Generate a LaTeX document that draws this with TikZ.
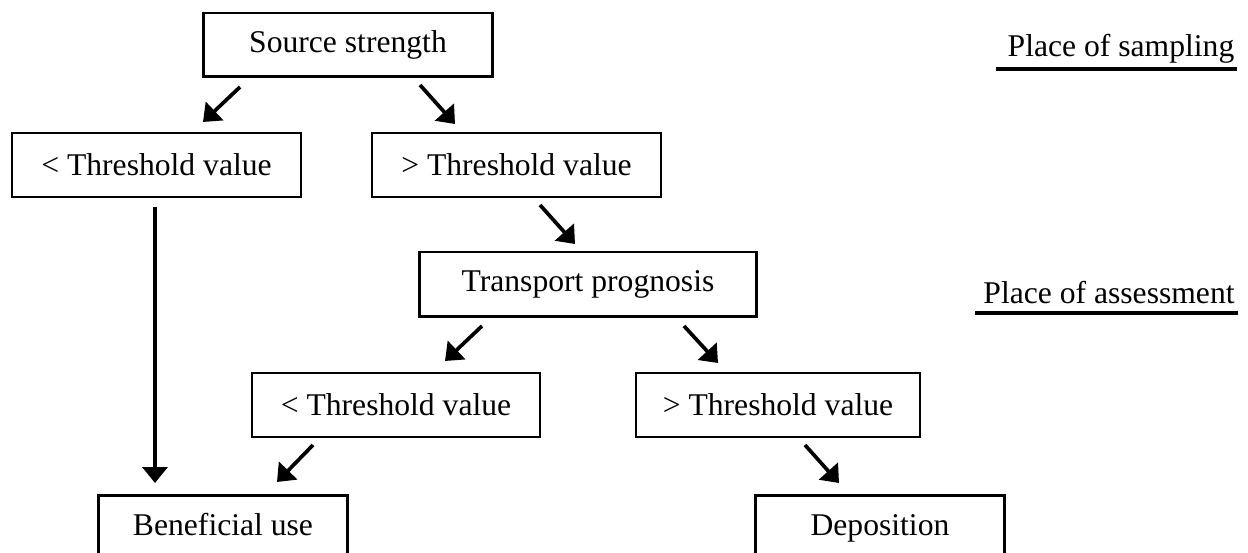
\documentclass[tikz,border=0pt]{standalone}
\usepackage{fontspec}
\setmainfont{Liberation Serif}
\usetikzlibrary{arrows.meta}

\begin{document}
\begin{tikzpicture}[x=0.02cm, y=-0.02cm,
    box/.style={draw, line width=0.85pt, minimum width=5.78cm, minimum height=1.28cm, inner sep=0pt, font=\fontsize{18}{22}\selectfont},
    heavy/.style={box, line width=1.7pt},
    cutbox/.style={heavy, anchor=north, text height=0.8cm, text depth=1cm},
    flow/.style={line width=2.1pt, -{Triangle[length=0.32cm, width=0.5cm]}},
    tag/.style={font=\fontsize{18}{22}\selectfont, inner sep=0pt, anchor=base},
    rule/.style={line width=1.9pt}]
    \useasboundingbox (0,0) rectangle (1248,553);

    \node[heavy] (src) at (348,45) {Source strength};
    \node[box] (ltA) at (156.5,165) {< Threshold value};
    \node[box] (gtA) at (516.5,165) {> Threshold value};
    \node[heavy, minimum width=6.76cm, minimum height=1.3cm] (trans) at (588,284.5) {Transport prognosis};
    \node[box, minimum width=5.76cm] (ltB) at (396,405) {< Threshold value};
    \node[box, minimum width=5.68cm] (gtB) at (778,405) {> Threshold value};
    \node[cutbox, minimum width=5cm] (ben) at (223,494) {Beneficial use};
    \node[cutbox, minimum width=4.98cm] (dep) at (880,494) {Deposition};

    % labels on the right
    \node[tag] (samp) at (1121,57) {Place of sampling};
    \node[tag] (asse) at (1109,304) {Place of assessment};
    \draw[rule] (996,69) -- (1237,69);
    \draw[rule] (975,313) -- (1238,313);

    % arrow ends
    \coordinate (a1) at (240,87);  \coordinate (a2) at (203,122);
    \coordinate (b1) at (420,85);  \coordinate (b2) at (455,124);
    \coordinate (c1) at (155,207); \coordinate (c2) at (155,483);
    \coordinate (d1) at (540,205); \coordinate (d2) at (575,244);
    \coordinate (e1) at (482,326); \coordinate (e2) at (445,361);
    \coordinate (f1) at (684,326); \coordinate (f2) at (718,363);
    \coordinate (g1) at (313,445); \coordinate (g2) at (277,482);
    \coordinate (h1) at (805,445); \coordinate (h2) at (839,483);

    \draw[flow] (a1) -- (a2);
    \draw[flow] (b1) -- (b2);
    \draw[flow] (c1) -- (c2);
    \draw[flow] (d1) -- (d2);
    \draw[flow] (e1) -- (e2);
    \draw[flow] (f1) -- (f2);
    \draw[flow] (g1) -- (g2);
    \draw[flow] (h1) -- (h2);
\end{tikzpicture}
\end{document}
